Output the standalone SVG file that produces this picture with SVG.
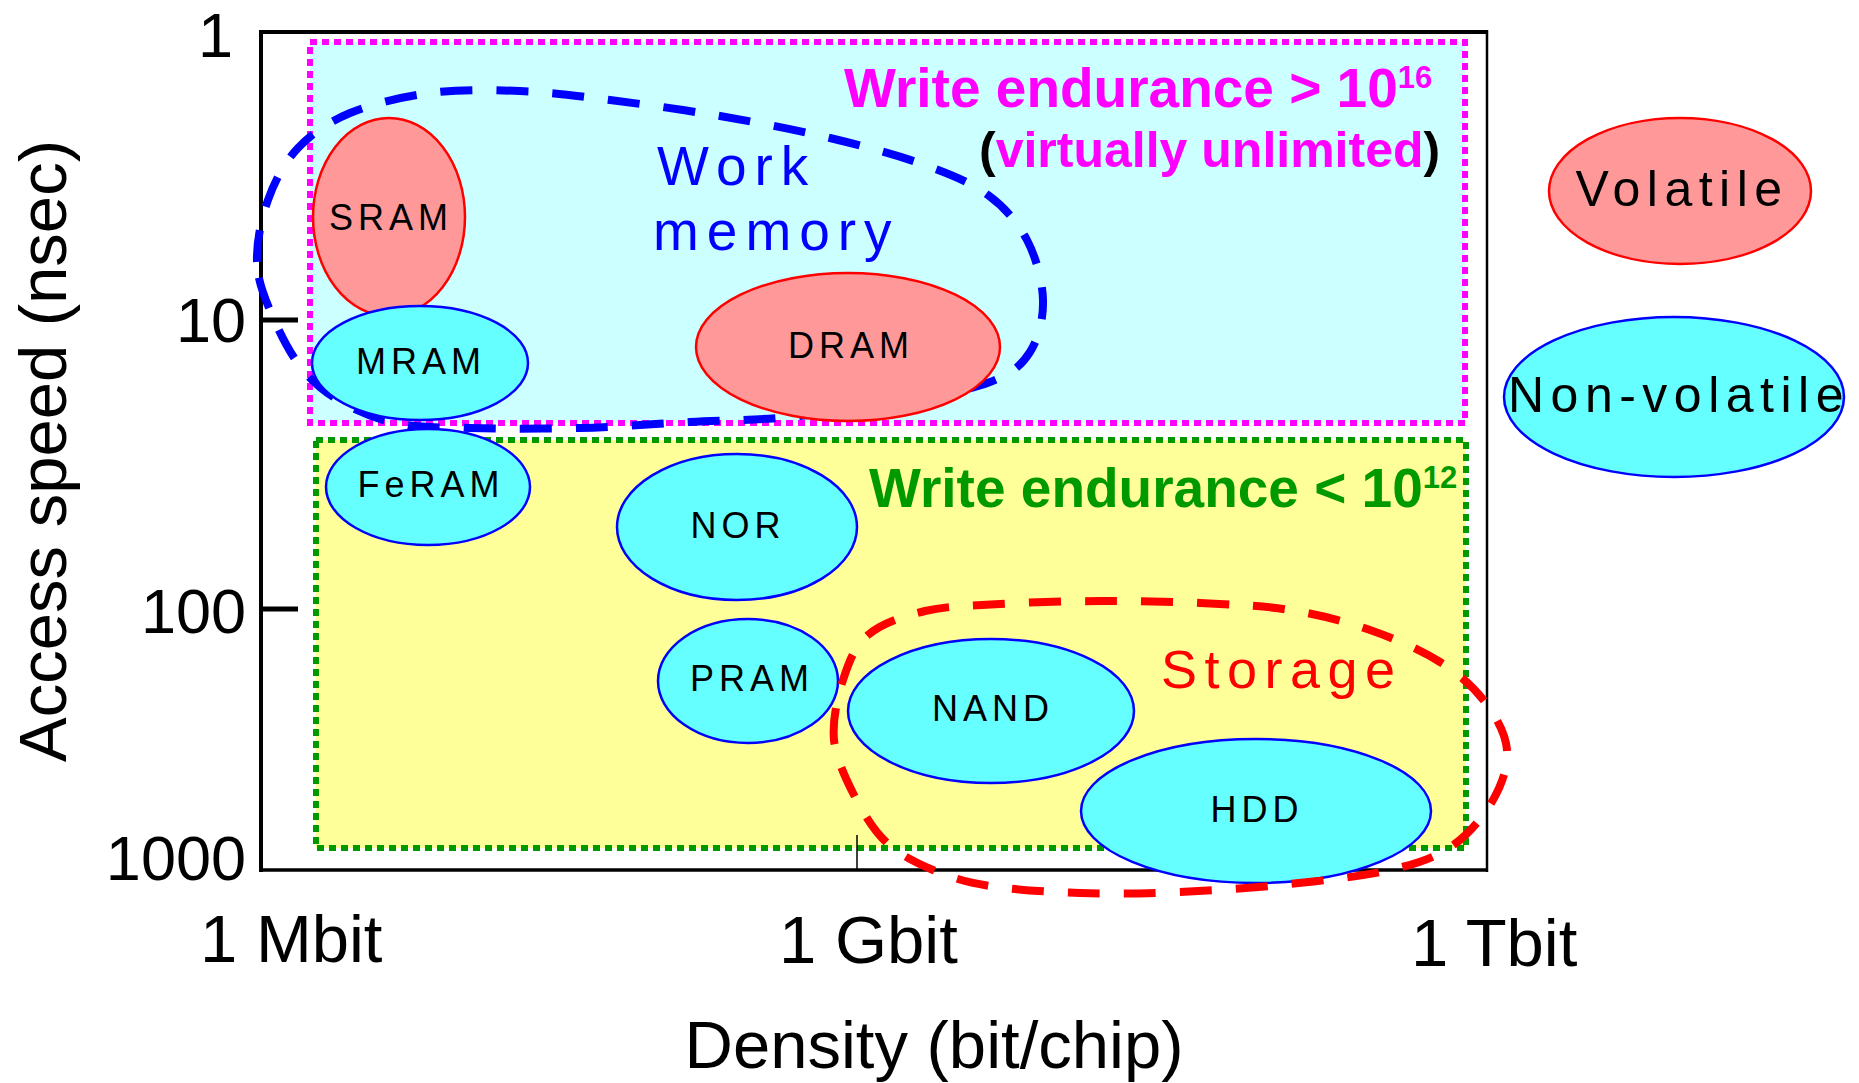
<svg xmlns="http://www.w3.org/2000/svg" width="1859" height="1083" viewBox="0 0 1859 1083">
<style>
text{font-family:"Liberation Sans",Arial,sans-serif}
.ax{stroke:#000;fill:none}
.tick{font-size:63px;text-anchor:end;fill:#000}
.xl{font-size:67px;fill:#000}
.lbl{font-size:36px;text-anchor:middle;letter-spacing:5px;fill:#000}
.big{font-size:50px;text-anchor:middle;letter-spacing:6.5px;fill:#000}
.red{fill:#FF9999;stroke:#FF0000;stroke-width:2.5}
.cyan{fill:#66FFFF;stroke:#0000FF;stroke-width:2.5}
.bold{font-weight:bold}
.dash{fill:none;stroke-width:8;stroke-dasharray:32 24}
</style>
<rect width="1859" height="1083" fill="#fff"/>
<g id="region-unlimited">
<rect x="310" y="42" width="1155" height="381" fill="#CCFFFF" stroke="#FF00FF" stroke-width="6" stroke-dasharray="7 5"/>
<text x="844" y="107" class="bold" font-size="55" fill="#FF00FF">Write endurance &gt; 10<tspan font-size="31" dy="-19">16</tspan></text>
<text x="979" y="167" class="bold" font-size="50" fill="#FF00FF"><tspan fill="#000">(</tspan>virtually unlimited<tspan fill="#000">)</tspan></text>
</g>
<g id="region-limited">
<rect x="316" y="440" width="1150" height="408" fill="#FFFF99" stroke="#009900" stroke-width="6" stroke-dasharray="7 5"/>
<text x="869" y="507" class="bold" font-size="55" fill="#009900">Write endurance &lt; 10<tspan font-size="31" dy="-19">12</tspan></text>
</g>
<g id="axes">
<line class="ax" x1="261" y1="30" x2="261" y2="872" stroke-width="4"/>
<line class="ax" x1="259" y1="32" x2="1488" y2="32" stroke-width="4"/>
<line class="ax" x1="1487" y1="30" x2="1487" y2="872" stroke-width="2.5"/>
<line class="ax" x1="259" y1="870" x2="1488" y2="870" stroke-width="3.5"/>
<line class="ax" x1="261" y1="320" x2="298" y2="320" stroke-width="5"/>
<line class="ax" x1="261" y1="609" x2="298" y2="609" stroke-width="5"/>
<line class="ax" x1="857" y1="835" x2="857" y2="870" stroke-width="1.5"/>
<text class="tick" x="233" y="57">1</text>
<text class="tick" x="246" y="342">10</text>
<text class="tick" x="246" y="633">100</text>
<text class="tick" x="246" y="880">1000</text>
<text class="xl" x="200" y="962">1 Mbit</text>
<text class="xl" x="779" y="963">1 Gbit</text>
<text class="xl" x="1411" y="966">1 Tbit</text>
<text class="xl" x="934" y="1068" font-size="68" text-anchor="middle">Density (bit/chip)</text>
<text class="xl" font-size="66" text-anchor="middle" transform="translate(66,451) rotate(-90)">Access speed (nsec)</text>
</g>
<g id="connectors">
<path id="work-memory-outline" class="dash" stroke="#0000FF" d="M257,262 C256.3,242.8 261.2,219 268,200 C274.8,181 284.3,162.5 298,148 C311.7,133.5 328,122.2 350,113 C372,103.8 401.7,96.7 430,93 C458.3,89.3 490,89.8 520,91 C550,92.2 576.7,95.8 610,100 C643.3,104.2 683.3,109.7 720,116 C756.7,122.3 795.8,129.8 830,138 C864.2,146.2 898.7,155.5 925,165 C951.3,174.5 971,182.5 988,195 C1005,207.5 1017.8,222.5 1027,240 C1036.2,257.5 1042.5,281.3 1043,300 C1043.5,318.7 1038.8,338.3 1030,352 C1021.2,365.7 1011.7,373.7 990,382 C968.3,390.3 933.3,396.2 900,402 C866.7,407.8 825,413.7 790,417 C755,420.3 725,420.2 690,422 C655,423.8 616.7,427 580,428 C543.3,429 500,428.7 470,428 C440,427.3 420.8,428 400,424 C379.2,420 361.2,413 345,404 C328.8,395 315.2,384.8 303,370 C290.8,355.2 279.7,333 272,315 C264.3,297 257.7,281.2 257,262 Z"/>
</g>
<text x="657" y="185" font-size="55" letter-spacing="8" fill="#0000FF">Work</text>
<text x="653" y="250" font-size="55" letter-spacing="8" fill="#0000FF">memory</text>
<g id="node-sram"><ellipse class="red" cx="389" cy="217" rx="76" ry="99"/><text class="lbl" x="391" y="230">SRAM</text></g>
<g id="node-mram"><ellipse class="cyan" cx="420" cy="363" rx="108" ry="57"/><text class="lbl" x="421" y="374">MRAM</text></g>
<g id="node-feram"><ellipse class="cyan" cx="428" cy="487" rx="102" ry="58"/><text class="lbl" x="431" y="497">FeRAM</text></g>
<g id="node-dram"><ellipse class="red" cx="848" cy="347" rx="152" ry="74"/><text class="lbl" x="851" y="358">DRAM</text></g>
<g id="node-nor"><ellipse class="cyan" cx="737" cy="527" rx="120" ry="73"/><text class="lbl" x="738" y="538">NOR</text></g>
<g id="node-pram"><ellipse class="cyan" cx="748" cy="681" rx="90" ry="62"/><text class="lbl" x="752" y="691">PRAM</text></g>
<g id="node-nand"><ellipse class="cyan" cx="991" cy="711" rx="143" ry="72"/><text class="lbl" x="993" y="721">NAND</text></g>
<g id="node-hdd"><ellipse class="cyan" cx="1256" cy="811" rx="175" ry="72"/><text class="lbl" x="1257" y="822">HDD</text></g>
<g id="node-volatile"><ellipse class="red" cx="1680" cy="191" rx="131" ry="73"/><text class="big" x="1682" y="206">Volatile</text></g>
<g id="node-nonvolatile"><ellipse class="cyan" cx="1674" cy="397" rx="170" ry="80"/><text class="big" x="1679" y="412">Non-volatile</text></g>
<g id="storage">
<path id="storage-outline" class="dash" stroke="#FF0000" d="M834,740 C832.2,720.8 837.3,697.5 843,680 C848.7,662.5 854.3,646.5 868,635 C881.7,623.5 903,616.2 925,611 C947,605.8 970.8,605.7 1000,604 C1029.2,602.3 1066.7,601.2 1100,601 C1133.3,600.8 1168.3,601.5 1200,603 C1231.7,604.5 1261.7,605.5 1290,610 C1318.3,614.5 1345,621.3 1370,630 C1395,638.7 1420.8,650 1440,662 C1459.2,674 1473.8,687.3 1485,702 C1496.2,716.7 1505.7,733.7 1507,750 C1508.3,766.3 1502.2,784 1493,800 C1483.8,816 1469.2,834.3 1452,846 C1434.8,857.7 1417,863.7 1390,870 C1363,876.3 1325,880.3 1290,884 C1255,887.7 1215,890.5 1180,892 C1145,893.5 1111.7,894 1080,893 C1048.3,892 1014.5,889.8 990,886 C965.5,882.2 950.3,877.3 933,870 C915.7,862.7 899.2,854.5 886,842 C872.8,829.5 862.7,812 854,795 C845.3,778 835.8,757.2 834,740 Z"/>
<text x="1161" y="688" font-size="54" letter-spacing="7.5" fill="#FF0000">Storage</text>
</g>
</svg>
